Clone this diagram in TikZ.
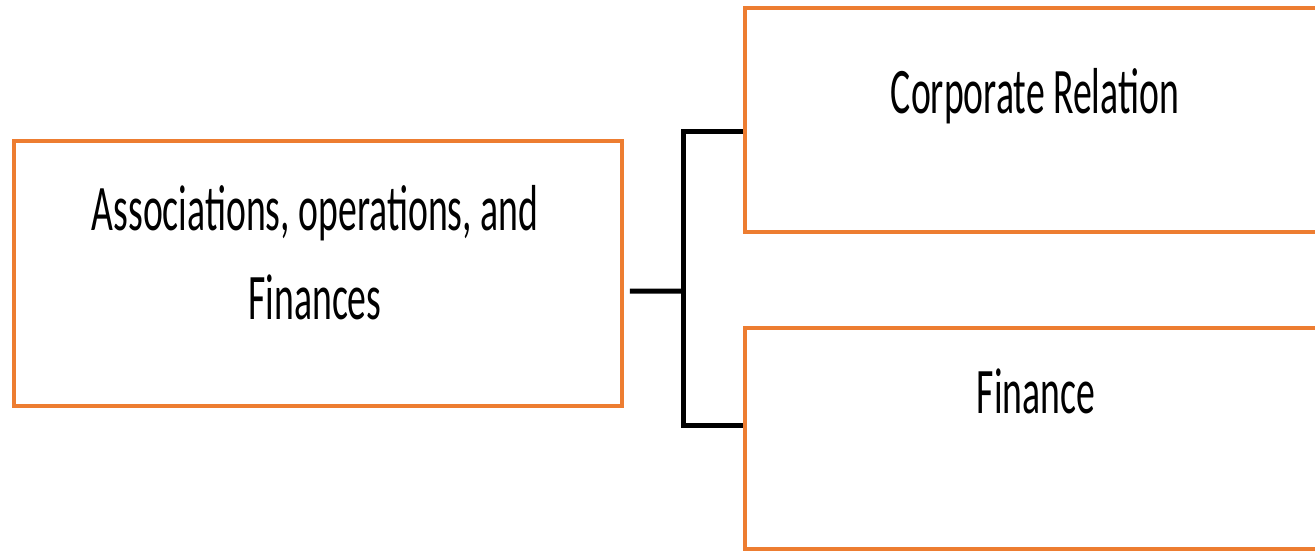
\documentclass[tikz,border=0pt]{standalone}
\usepackage{fontspec}
\setmainfont{Carlito}
\newfontfamily\zhaiti[FakeStretch=0.58]{Carlito}
\usepackage{tikz}
\definecolor{chengse}{HTML}{ED7D31}
\tikzset{
  kuang/.style={draw=chengse, line width=0.08cm, rectangle, inner sep=0pt},
  wenzi/.style={font=\zhaiti\fontsize{37}{50.5}\selectfont, align=center, inner sep=0pt},
  lian/.style={draw=black, line width=0.1cm}
}

\begin{document}
\begin{tikzpicture}[x=0.02cm, y=-0.02cm]
        % 画布大小
        \useasboundingbox (0,0) rectangle (1315,551);
        \clip (0,0) rectangle (1315,551);

        % 绘制方框
        \node[kuang, minimum width=12.16cm, minimum height=5.3cm] (zuo) at (318,273.5) {};
        \node[kuang, minimum width=11.7cm, minimum height=4.48cm] (shang) at (1037.5,120) {};
        \node[kuang, minimum width=11.7cm, minimum height=4.42cm] (xia) at (1037.5,438.5) {};

        % 添加文字
        \node[wenzi, anchor=base] (zuowen) at (315,319) {Associations, operations, and\\Finances};
        \node[wenzi, anchor=base] (shangwen) at (1035,113) {Corporate Relation};
        \node[wenzi, anchor=base] (xiawen) at (1036,413) {Finance};

        % 绘制连线
        \coordinate (fen) at (683,291);
        \draw[lian] ([xshift=0.12cm, yshift=-0.35cm]zuo.east) -- (fen);
        \draw[lian] ([yshift=-0.24cm]shang.west) -| (fen) |- ([yshift=0.27cm]xia.west);
    \end{tikzpicture}
\end{document}
